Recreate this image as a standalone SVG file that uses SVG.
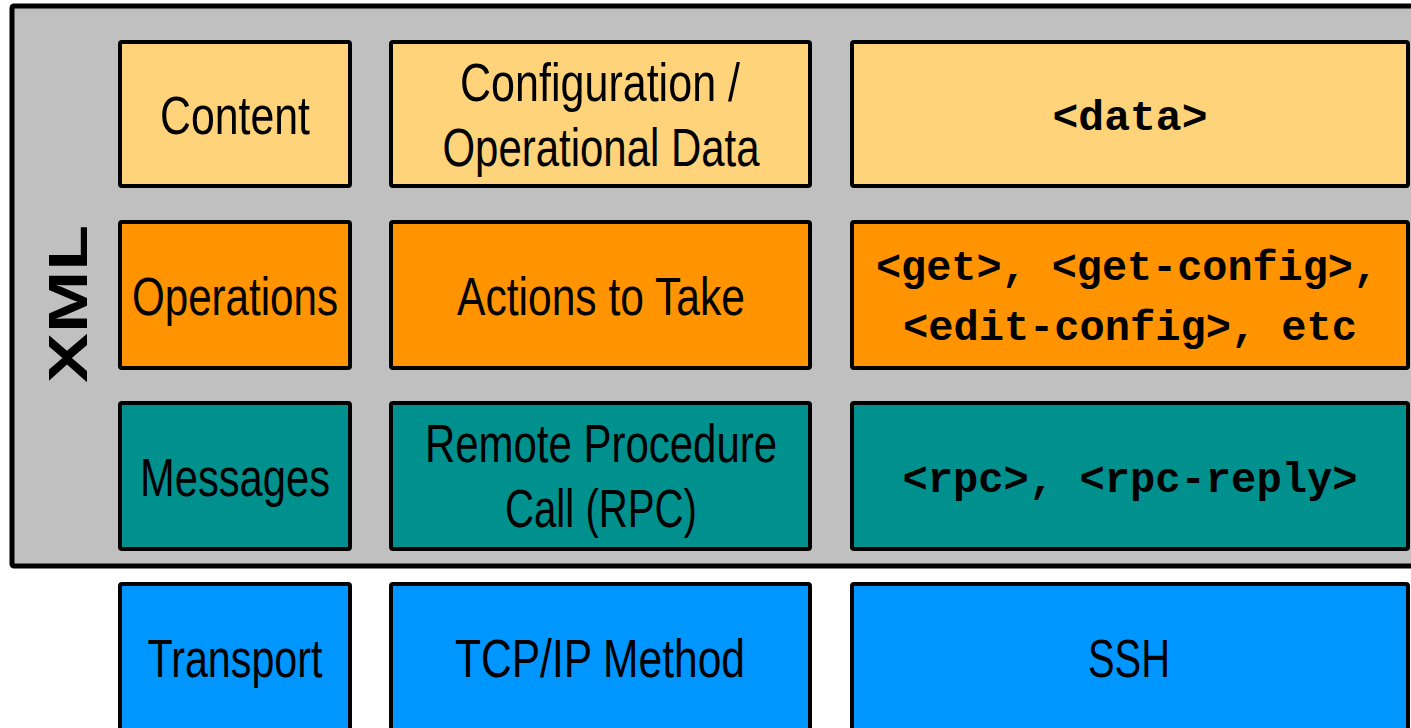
<svg xmlns="http://www.w3.org/2000/svg" width="1411" height="728" viewBox="0 0 1411 728">
<style>
.box{stroke:#000;stroke-width:4;stroke-linejoin:round}
.c1{fill:#FFD37A}.c2{fill:#FF9300}.c3{fill:#00918F}.c4{fill:#0096FF}
.lbl{font-family:"Liberation Sans Narrow","Liberation Sans",Arial,sans-serif;font-size:54px;fill:#000;text-anchor:middle}
.mono{font-family:"Liberation Mono","Courier New",monospace;font-weight:bold;font-size:43px;fill:#000;text-anchor:middle}
.xml{font-family:"Liberation Sans",Arial,sans-serif;font-weight:bold;font-size:56px;fill:#000;text-anchor:middle}
</style>
<rect width="1411" height="728" fill="#fff"/>
<g id="xml-layer">
<rect x="12" y="6" width="1410" height="560" rx="2" fill="#C0C0C0" stroke="#000" stroke-width="5"/>
<text class="xml" transform="translate(87,304) rotate(-90)" textLength="158" lengthAdjust="spacingAndGlyphs">XML</text>
</g>
<g id="content">
<rect class="box c1" x="120" y="42" width="230" height="144" rx="2"/>
<text class="lbl" x="235" y="134" textLength="150" lengthAdjust="spacingAndGlyphs">Content</text>
</g>
<g id="config-data">
<rect class="box c1" x="391" y="42" width="419" height="144" rx="2"/>
<text class="lbl" x="600" y="101" textLength="280" lengthAdjust="spacingAndGlyphs">Configuration /</text>
<text class="lbl" x="601" y="166" textLength="317" lengthAdjust="spacingAndGlyphs">Operational Data</text>
</g>
<g id="data-tag">
<rect class="box c1" x="852" y="42" width="556" height="144" rx="2"/>
<text class="mono" x="1130" y="130" textLength="155" lengthAdjust="spacingAndGlyphs">&lt;data&gt;</text>
</g>
<g id="operations">
<rect class="box c2" x="120" y="222" width="230" height="146" rx="2"/>
<text class="lbl" x="235" y="315" textLength="206" lengthAdjust="spacingAndGlyphs">Operations</text>
</g>
<g id="actions">
<rect class="box c2" x="391" y="222" width="419" height="146" rx="2"/>
<text class="lbl" x="601" y="315" textLength="288" lengthAdjust="spacingAndGlyphs">Actions to Take</text>
</g>
<g id="ops-tags">
<rect class="box c2" x="852" y="222" width="556" height="146" rx="2"/>
<text class="mono" x="1127" y="280" textLength="502" lengthAdjust="spacingAndGlyphs">&lt;get&gt;, &lt;get-config&gt;,</text>
<text class="mono" x="1130" y="340" textLength="454" lengthAdjust="spacingAndGlyphs">&lt;edit-config&gt;, etc</text>
</g>
<g id="messages">
<rect class="box c3" x="120" y="403" width="230" height="146" rx="2"/>
<text class="lbl" x="235" y="496" textLength="190" lengthAdjust="spacingAndGlyphs">Messages</text>
</g>
<g id="rpc">
<rect class="box c3" x="391" y="403" width="419" height="146" rx="2"/>
<text class="lbl" x="601" y="462" textLength="352" lengthAdjust="spacingAndGlyphs">Remote Procedure</text>
<text class="lbl" x="601" y="527" textLength="192" lengthAdjust="spacingAndGlyphs">Call (RPC)</text>
</g>
<g id="rpc-tags">
<rect class="box c3" x="852" y="403" width="556" height="146" rx="2"/>
<text class="mono" x="1130" y="492" textLength="455" lengthAdjust="spacingAndGlyphs">&lt;rpc&gt;, &lt;rpc-reply&gt;</text>
</g>
<g id="transport">
<rect class="box c4" x="120" y="584" width="230" height="148" rx="2"/>
<text class="lbl" x="235" y="677" textLength="175" lengthAdjust="spacingAndGlyphs">Transport</text>
</g>
<g id="tcpip">
<rect class="box c4" x="391" y="584" width="419" height="148" rx="2"/>
<text class="lbl" x="600" y="677" textLength="290" lengthAdjust="spacingAndGlyphs">TCP/IP Method</text>
</g>
<g id="ssh">
<rect class="box c4" x="852" y="584" width="556" height="148" rx="2"/>
<text class="lbl" x="1129" y="677" textLength="82" lengthAdjust="spacingAndGlyphs">SSH</text>
</g>
<g id="connectors"/>
</svg>
